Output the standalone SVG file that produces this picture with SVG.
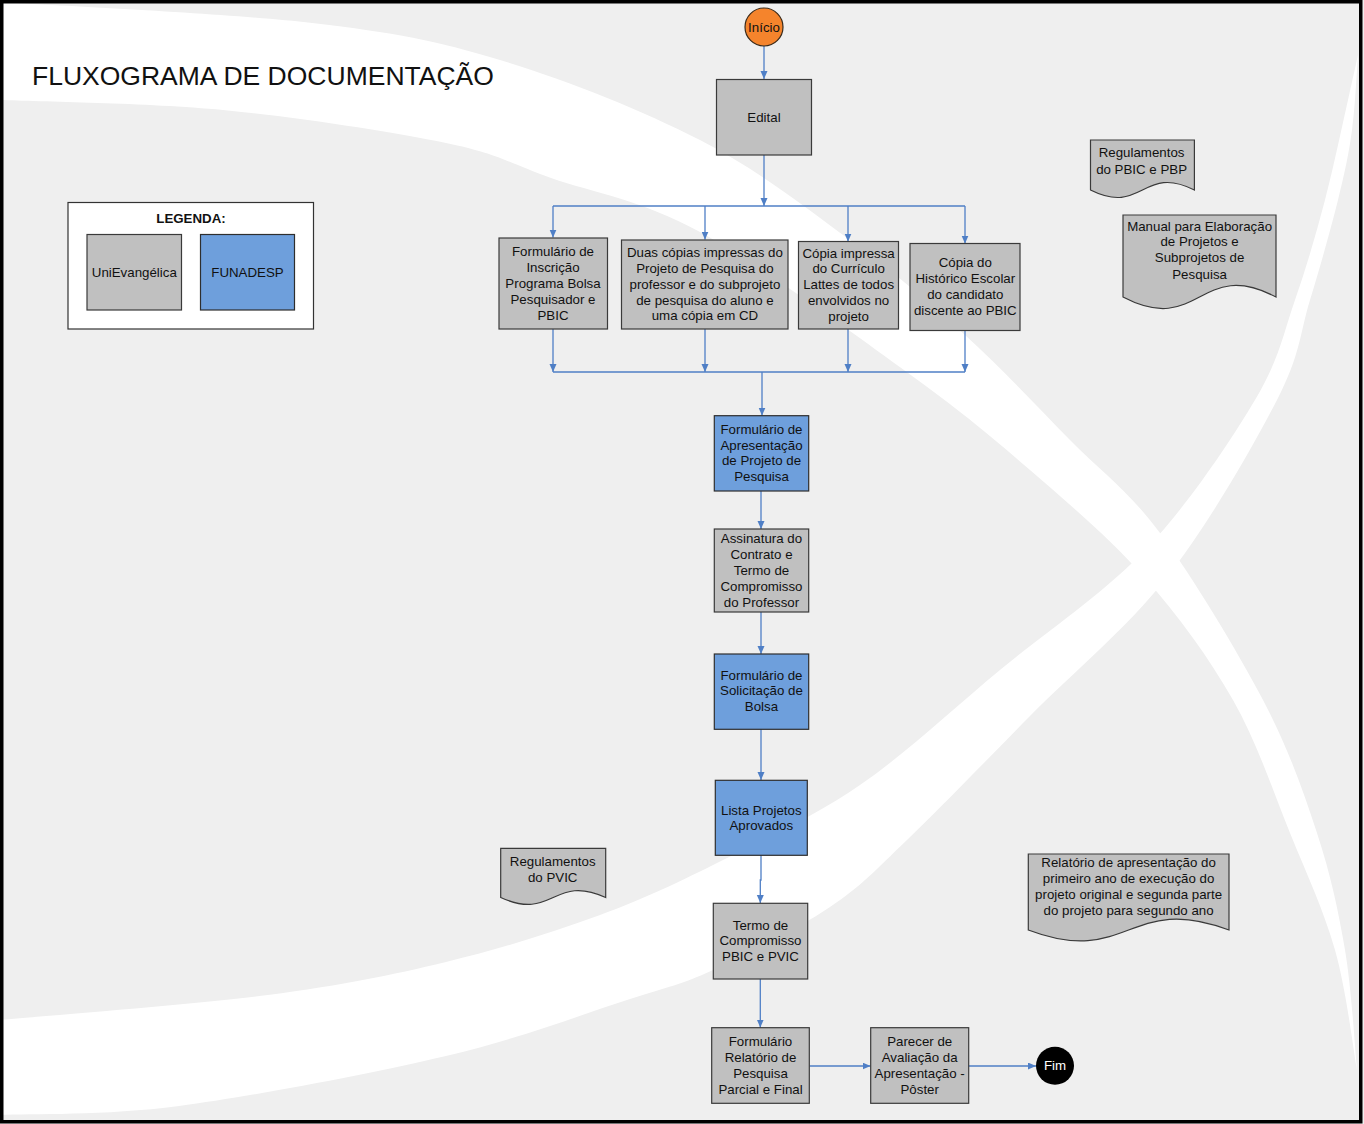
<svg xmlns="http://www.w3.org/2000/svg" width="1364" height="1124" viewBox="0 0 1364 1124">
<defs>
<style>
text{font-family:"Liberation Sans",Arial,sans-serif;font-size:13.3px;fill:#111;text-anchor:middle}
.g{fill:#c0c0c0;stroke:#3a3a3a;stroke-width:1.2}
.b{fill:#6e9fdc;stroke:#2e2e2e;stroke-width:1.2}
.c{fill:none;stroke:#4f7fc6;stroke-width:1.3}
.ca{fill:none;stroke:#4f7fc6;stroke-width:1.3;marker-end:url(#arr)}
.band{fill:#ffffff}
</style>
<marker id="arr" markerUnits="userSpaceOnUse" markerWidth="8" markerHeight="8" refX="8" refY="3.5" orient="auto">
<path d="M0,0 L8,3.5 L0,7 Z" fill="#4f7fc6"/>
</marker>
</defs>
<g id="background">
<rect x="0" y="0" width="1364" height="1124" fill="#efefef"/>
<path class="band" d="M0,2 C52,5.5 228.7,13.3 312,23 C395.3,32.7 435.3,40.5 500,60 C564.7,79.5 641.7,110 700,140 C758.3,170 805.8,207.5 850,240 C894.2,272.5 928.3,301.7 965,335 C1001.7,368.3 1037.5,407 1070,440 C1102.5,473 1127.8,489.7 1160,533 C1192.2,576.3 1236.8,650 1263,700 C1289.2,750 1303.3,791.3 1317,833 C1330.7,874.7 1338.3,910.5 1345,950 C1351.7,989.5 1355,1050 1357,1070 C1353.3,1050 1346.2,989.5 1335,950 C1323.8,910.5 1307,874.7 1290,833 C1273,791.3 1257.2,742.5 1233,700 C1208.8,657.5 1178.8,616.3 1145,578 C1111.2,539.7 1069.5,504.2 1030,470 C990.5,435.8 963,412.7 908,373 C853,333.3 759.5,264.5 700,232 C640.5,199.5 593.3,192.8 551,178 C508.7,163.2 500.7,154.3 446,143 C391.3,131.7 297.3,117.2 223,110 C148.7,102.8 37.2,101.7 0,100 Z"/>
<path class="band" d="M0,1020 C44.7,1015.8 193.7,1004.7 268,995 C342.3,985.3 390.7,975.3 446,962 C501.3,948.7 553.8,932 600,915 C646.2,898 679.7,881.7 723,860 C766.3,838.3 813.8,816.7 860,785 C906.2,753.3 952.2,709.5 1000,670 C1047.8,630.5 1104.5,593 1147,548 C1189.5,503 1230.3,441.3 1255,400 C1279.7,358.7 1283.3,333.3 1295,300 C1306.7,266.7 1316.2,233.3 1325,200 C1333.8,166.7 1342.5,124.2 1348,100 C1353.5,75.8 1356.3,62.5 1358,55 C1357,67.5 1355.3,105.8 1352,130 C1348.7,154.2 1345,171.7 1338,200 C1331,228.3 1320.2,266.7 1310,300 C1299.8,333.3 1300.7,354 1277,400 C1253.3,446 1209.2,523.3 1168,576 C1126.8,628.7 1073.5,672 1030,716 C986.5,760 940.3,808.2 907,840 C873.7,871.8 862.3,885.3 830,907 C797.7,928.7 746.8,954.5 713,970 C679.2,985.5 671.5,985.7 627,1000 C582.5,1014.3 520.7,1038.3 446,1056 C371.3,1073.7 253.3,1096.2 179,1106 C104.7,1115.8 29.8,1113.5 0,1115 Z"/>
<rect x="1.75" y="1.75" width="1359" height="1120" fill="none" stroke="#000" stroke-width="3.5"/>
</g>
<g id="title"><text x="32" y="85" style="font-size:26.5px;text-anchor:start">FLUXOGRAMA DE DOCUMENTAÇÃO</text></g>
<g id="legend">
<rect x="68" y="202.5" width="245.5" height="126.5" fill="#fff" stroke="#333" stroke-width="1.2"/>
<text x="191" y="222.5" style="font-weight:bold">LEGENDA:</text>
<rect class="g" x="87" y="234.5" width="94.5" height="75.5"/>
<text x="134.3" y="276.5">UniEvangélica</text>
<rect class="b" x="200.5" y="234.5" width="94" height="75.5"/>
<text x="247.5" y="276.5">FUNADESP</text>
</g>
<g id="connectors">
<path class="ca" d="M764,46 V79"/>
<path class="ca" d="M764,155 V206"/>
<path class="c" d="M553,206 H965"/>
<path class="ca" d="M553,206 V237.5"/>
<path class="ca" d="M705,206 V239.5"/>
<path class="ca" d="M848,206 V241.5"/>
<path class="ca" d="M965,206 V243.5"/>
<path class="ca" d="M553,329 V372"/>
<path class="ca" d="M705,329 V372"/>
<path class="ca" d="M848,329 V372"/>
<path class="ca" d="M965,331 V372"/>
<path class="c" d="M553,372 H965"/>
<path class="ca" d="M762,372 V415.5"/>
<path class="ca" d="M761,491 V529"/>
<path class="ca" d="M761,612 V654"/>
<path class="ca" d="M761,729 V780"/>
<path class="ca" d="M761,855 V880 H760.3 V903"/>
<path class="ca" d="M760.3,979 V1027.5"/>
<path class="ca" d="M809.5,1066 H870.5"/>
<path class="ca" d="M968.5,1066 H1036"/>
</g>
<g id="inicio">
<circle cx="764" cy="27" r="19" fill="#f5842c" stroke="#3a2a1a" stroke-width="1.2"/>
<text x="764" y="31.5">Início</text>
</g>
<g id="edital">
<rect class="g" x="716.5" y="79.5" width="95" height="75.5"/>
<text x="764" y="121.5">Edital</text>
</g>
<g id="formulario-inscricao">
<rect class="g" x="499" y="238" width="108.5" height="91"/>
<text x="553" y="256.2">Formulário de</text>
<text x="553" y="272">Inscrição</text>
<text x="553" y="287.9">Programa Bolsa</text>
<text x="553" y="303.7">Pesquisador e</text>
<text x="553" y="319.5">PBIC</text>
</g>
<g id="duas-copias">
<rect class="g" x="621.5" y="240" width="166.5" height="89"/>
<text x="704.9" y="257.2">Duas cópias impressas do</text>
<text x="704.9" y="273">Projeto de Pesquisa do</text>
<text x="704.9" y="288.8">professor e do subprojeto</text>
<text x="704.9" y="304.6">de pesquisa do aluno e</text>
<text x="704.9" y="320.3">uma cópia em CD</text>
</g>
<g id="copia-curriculo">
<rect class="g" x="798.5" y="241.5" width="100" height="87.5"/>
<text x="848.6" y="257.5">Cópia impressa</text>
<text x="848.6" y="273.3">do Currículo</text>
<text x="848.6" y="289.2">Lattes de todos</text>
<text x="848.6" y="305">envolvidos no</text>
<text x="848.6" y="321">projeto</text>
</g>
<g id="copia-historico">
<rect class="g" x="910" y="243.5" width="110" height="87"/>
<text x="965.3" y="267">Cópia do</text>
<text x="965.3" y="283">Histórico Escolar</text>
<text x="965.3" y="299">do candidato</text>
<text x="965.3" y="315">discente ao PBIC</text>
</g>
<g id="formulario-apresentacao">
<rect class="b" x="714.3" y="415.7" width="94.4" height="75.3"/>
<text x="761.5" y="434">Formulário de</text>
<text x="761.5" y="449.6">Apresentação</text>
<text x="761.5" y="465.4">de Projeto de</text>
<text x="761.5" y="481.2">Pesquisa</text>
</g>
<g id="assinatura-contrato">
<rect class="g" x="714.3" y="529" width="94.4" height="83"/>
<text x="761.5" y="542.8">Assinatura do</text>
<text x="761.5" y="558.8">Contrato e</text>
<text x="761.5" y="574.7">Termo de</text>
<text x="761.5" y="590.5">Compromisso</text>
<text x="761.5" y="606.5">do Professor</text>
</g>
<g id="formulario-solicitacao">
<rect class="b" x="714.3" y="654" width="94.4" height="75.3"/>
<text x="761.5" y="679.5">Formulário de</text>
<text x="761.5" y="695.4">Solicitação de</text>
<text x="761.5" y="711.2">Bolsa</text>
</g>
<g id="lista-projetos">
<rect class="b" x="715.3" y="780.3" width="92" height="75"/>
<text x="761.3" y="814.5">Lista Projetos</text>
<text x="761.3" y="830.2">Aprovados</text>
</g>
<g id="termo-compromisso">
<rect class="g" x="713.3" y="903.3" width="94.4" height="75.7"/>
<text x="760.5" y="929.5">Termo de</text>
<text x="760.5" y="945">Compromisso</text>
<text x="760.5" y="960.5">PBIC e PVIC</text>
</g>
<g id="formulario-relatorio">
<rect class="g" x="711.7" y="1027.7" width="97.6" height="75.6"/>
<text x="760.5" y="1046.2">Formulário</text>
<text x="760.5" y="1061.8">Relatório de</text>
<text x="760.5" y="1077.8">Pesquisa</text>
<text x="760.5" y="1093.5">Parcial e Final</text>
</g>
<g id="parecer">
<rect class="g" x="870.7" y="1027.7" width="98" height="75.6"/>
<text x="919.7" y="1045.5">Parecer de</text>
<text x="919.7" y="1061.8">Avaliação da</text>
<text x="919.7" y="1077.8">Apresentação -</text>
<text x="919.7" y="1093.5">Pôster</text>
</g>
<g id="fim">
<circle cx="1055" cy="1065.7" r="19" fill="#000"/>
<text x="1055" y="1070.3" style="fill:#fff">Fim</text>
</g>
<g id="doc-regulamentos-pbic">
<path class="g" d="M1090.5,140 H1194.4 V190 C1142.5,164 1142.5,216 1090.5,190 Z"/>
<text x="1141.6" y="157.2">Regulamentos</text>
<text x="1141.6" y="173.5">do PBIC e PBP</text>
</g>
<g id="doc-manual">
<path class="g" d="M1123,215 H1276 V297 C1199.5,257 1199.5,337 1123,297 Z"/>
<text x="1199.6" y="230.5">Manual para Elaboração</text>
<text x="1199.6" y="246.2">de Projetos e</text>
<text x="1199.6" y="262.2">Subprojetos de</text>
<text x="1199.6" y="278.5">Pesquisa</text>
</g>
<g id="doc-regulamentos-pvic">
<path class="g" d="M500.7,848.3 H605.7 V897.5 C553.2,873.5 553.2,921.5 500.7,897.5 Z"/>
<text x="552.7" y="866">Regulamentos</text>
<text x="552.7" y="882">do PVIC</text>
</g>
<g id="doc-relatorio">
<path class="g" d="M1028.3,854 H1229 V930 C1128.6,892 1128.6,968 1028.3,930 Z"/>
<text x="1128.6" y="867">Relatório de apresentação do</text>
<text x="1128.6" y="883">primeiro ano de execução do</text>
<text x="1128.6" y="899">projeto original e segunda parte</text>
<text x="1128.6" y="915">do projeto para segundo ano</text>
</g>
</svg>
